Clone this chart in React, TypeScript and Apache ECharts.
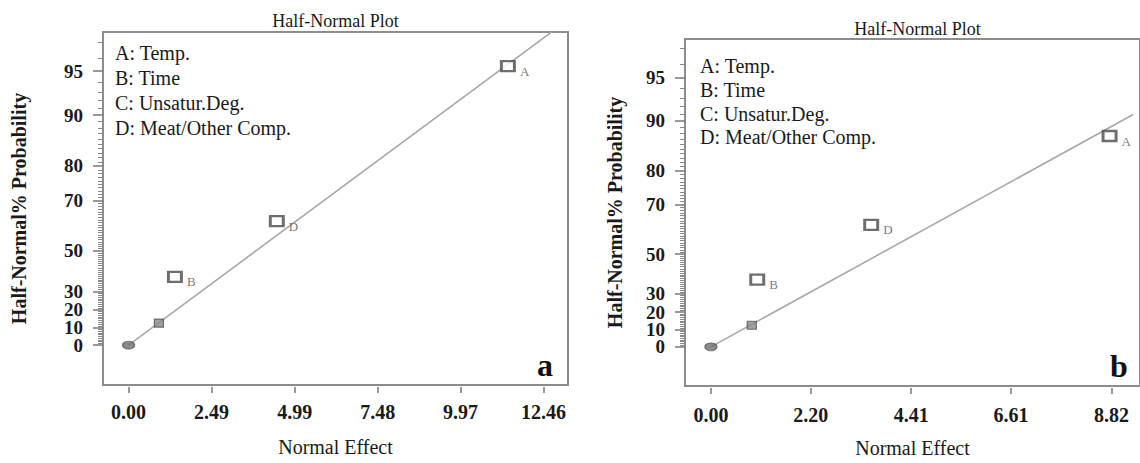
import React, { useEffect, useRef } from "react";
import * as echarts from "echarts";

// ---- data ----
const namesA = ["", "", "B", "D", "A"];
const effectA = [0, 0.91, 1.39, 4.45, 11.39];
const probA = [0, 12.5, 37.5, 62.5, 95.4];
const fitEffectA = [0, 12.71];
const fitProbA = [0, 97.5];

const namesB = ["", "", "B", "D", "A"];
const effectB = [0, 0.9, 1.02, 3.53, 8.78];
const probB = [0, 12.5, 37.5, 62.5, 87.5];
const fitEffectB = [0, 9.3];
const fitProbB = [0, 90.9];

const xTicksA = [0, 2.49, 4.99, 7.48, 9.97, 12.46];
const xTicksB = [0, 2.2, 4.41, 6.61, 8.82];
const yTicksPct = [0, 10, 20, 30, 50, 70, 80, 90, 95];
const yMinorPct = Array.from({ length: 97 }, (_, i) => i + 1);

const legendLines = ["A: Temp.", "B: Time", "C: Unsatur.Deg.", "D: Meat/Other Comp."];

// inverse standard normal CDF (Acklam)
function invNorm(p: number): number {
  const a = [-3.969683028665376e1, 2.209460984245205e2, -2.759285104469687e2, 1.38357751867269e2, -3.066479806614716e1, 2.506628277459239];
  const b = [-5.447609879822406e1, 1.615858368580409e2, -1.556989798598866e2, 6.680131188771972e1, -1.328068155288572e1];
  const c = [-7.784894002430293e-3, -3.223964580411365e-1, -2.400758277161838, -2.549732539343734, 4.374664141464968, 2.938163982698783];
  const d = [7.784695709041462e-3, 3.224671290700398e-1, 2.445134137142996, 3.754408661907416];
  const plow = 0.02425;
  const phigh = 1 - plow;
  if (p < plow) {
    const q = Math.sqrt(-2 * Math.log(p));
    return (((((c[0] * q + c[1]) * q + c[2]) * q + c[3]) * q + c[4]) * q + c[5]) / ((((d[0] * q + d[1]) * q + d[2]) * q + d[3]) * q + 1);
  } else if (p <= phigh) {
    const q = p - 0.5;
    const r = q * q;
    return ((((((a[0] * r + a[1]) * r + a[2]) * r + a[3]) * r + a[4]) * r + a[5]) * q) / (((((b[0] * r + b[1]) * r + b[2]) * r + b[3]) * r + b[4]) * r + 1);
  }
  const q = Math.sqrt(-2 * Math.log(1 - p));
  return -(((((c[0] * q + c[1]) * q + c[2]) * q + c[3]) * q + c[4]) * q + c[5]) / ((((d[0] * q + d[1]) * q + d[2]) * q + d[3]) * q + 1);
}
// half-normal probability scale
const hz = (pct: number) => invNorm((1 + pct / 100) / 2);

const FONT = "Liberation Serif, Times New Roman, serif";
const Z_MIN = -0.285;
const Z_MAX = 2.24;

function pointData(names: string[], eff: number[], prob: number[]) {
  return eff.map((x, i) => {
    const base: any = { name: names[i], value: [x, hz(prob[i])] };
    if (i === 0) {
      base.symbol = "circle";
      base.symbolSize = [12, 8];
      base.itemStyle = { color: "#6e6e6e", borderColor: "#555", borderWidth: 1 };
    } else if (i === 1) {
      base.symbol = "rect";
      base.symbolSize = [9, 8];
      base.itemStyle = { color: "#8a8a8a", borderColor: "#555", borderWidth: 1.2 };
    } else {
      base.symbol = "rect";
      base.symbolSize = [13, 10];
      base.itemStyle = { color: "#ffffff", borderColor: "#4a4a4a", borderWidth: 2.6 };
    }
    return base;
  });
}

const yLabelFmt = (v: number) => {
  const t = yTicksPct.find((p) => Math.abs(hz(p) - v) < 1e-6);
  return t === undefined ? "" : String(t);
};

// labels are split over two overlaid axes so that closely spaced ones are not auto-hidden
const labelSet1 = yTicksPct.filter((_, i) => i % 2 === 0);
const labelSet2 = yTicksPct.filter((_, i) => i % 2 === 1);

function yLabelStyle(margin: number, values: number[]) {
  return {
    margin,
    fontFamily: FONT,
    fontSize: 19,
    lineHeight: 15,
    fontWeight: "bold",
    color: "#1a1a1a",
    hideOverlap: false,
    showMinLabel: true,
    showMaxLabel: true,
    customValues: values.map(hz),
    formatter: yLabelFmt,
  };
}

function yAxes(gridIndex: number, labelMargin: number, nameGap: number) {
  return [
    {
      type: "value",
      gridIndex,
      position: "left",
      min: Z_MIN,
      max: Z_MAX,
      name: "Half-Normal% Probability",
      nameLocation: "middle",
      nameRotate: 90,
      nameGap,
      nameTextStyle: { fontFamily: FONT, fontSize: 20, fontWeight: "bold", color: "#1a1a1a" },
      axisLine: { show: false, onZero: false },
      splitLine: { show: false },
      axisTick: {
        show: true,
        length: 10,
        lineStyle: { color: "#777", width: 1.5 },
        customValues: yTicksPct.map(hz),
      },
      axisLabel: yLabelStyle(labelMargin, labelSet1),
    },
    {
      type: "value",
      gridIndex,
      position: "left",
      offset: 0,
      min: Z_MIN,
      max: Z_MAX,
      axisLine: { show: false, onZero: false },
      splitLine: { show: false },
      axisLabel: yLabelStyle(labelMargin, labelSet2),
      axisTick: {
        show: true,
        length: 5,
        lineStyle: { color: "#888", width: 1 },
        customValues: yMinorPct.filter((p) => !yTicksPct.includes(p)).map(hz),
      },
    },
  ];
}

function xAxis(gridIndex: number, min: number, max: number, ticks: number[], labelMargin: number) {
  return {
    type: "value",
    gridIndex,
    position: "bottom",
    min,
    max,
    offset: 2,
    name: "Normal Effect",
    nameLocation: "middle",
    nameGap: 50,
    nameTextStyle: { fontFamily: FONT, fontSize: 20, color: "#1a1a1a" },
    axisLine: { show: false, onZero: false },
    splitLine: { show: false },
    axisTick: { show: true, length: 6, lineStyle: { color: "#777", width: 1.5 }, customValues: ticks },
    axisLabel: {
      margin: labelMargin,
      fontFamily: FONT,
      fontSize: 20,
      fontWeight: "bold",
      color: "#1a1a1a",
      showMinLabel: true,
      showMaxLabel: true,
      customValues: ticks,
      formatter: (v: number) => v.toFixed(2),
    },
  };
}

function scatterSeries(idx: number, names: string[], eff: number[], prob: number[]) {
  return {
    type: "scatter",
    xAxisIndex: idx,
    yAxisIndex: idx * 2,
    z: 5,
    data: pointData(names, eff, prob),
    label: {
      show: true,
      position: "right",
      distance: 4,
      offset: [0, 5],
      formatter: (p: any) => p.name,
      fontFamily: FONT,
      fontSize: 13,
      color: "#555",
    },
  };
}

function lineSeries(idx: number, eff: number[], prob: number[]) {
  return {
    type: "line",
    xAxisIndex: idx,
    yAxisIndex: idx * 2,
    z: 3,
    symbol: "none",
    clip: true,
    lineStyle: { color: "#a8a8a8", width: 1.6 },
    data: eff.map((x, i) => [x, hz(prob[i])]),
  };
}

export default function App() {
  const ref = useRef<HTMLDivElement>(null);
  useEffect(() => {
    if (!ref.current) return;
    const chart = echarts.init(ref.current, undefined, { renderer: "svg" });
    const option: any = {
      animation: false,
      backgroundColor: "#ffffff",
      grid: [
        { left: 103, top: 32, width: 465, height: 353, show: true, borderColor: "#8c8c8c", borderWidth: 2, backgroundColor: "transparent" },
        { left: 685, top: 39, width: 465, height: 349, show: true, borderColor: "#8c8c8c", borderWidth: 2, backgroundColor: "transparent" },
      ],
      xAxis: [xAxis(0, -0.769, 13.195, xTicksA, 15), xAxis(1, -0.571, 9.45, xTicksB, 17)],
      yAxis: [...yAxes(0, 20, 74), ...yAxes(1, 20, 60)],
      series: [
        lineSeries(0, fitEffectA, fitProbA),
        scatterSeries(0, namesA, effectA, probA),
        lineSeries(1, fitEffectB, fitProbB),
        scatterSeries(1, namesB, effectB, probB),
      ],
      graphic: [
        { type: "text", x: 335.5, y: 21, style: { text: "Half-Normal Plot", font: `18px ${FONT}`, fill: "#1a1a1a", textAlign: "center", textVerticalAlign: "middle" } },
        { type: "text", x: 917.5, y: 29, style: { text: "Half-Normal Plot", font: `18px ${FONT}`, fill: "#1a1a1a", textAlign: "center", textVerticalAlign: "middle" } },
        { type: "text", x: 115, y: 41, style: { text: legendLines.join("\n"), font: `20px ${FONT}`, lineHeight: 24.8, fill: "#1a1a1a", textAlign: "left", textVerticalAlign: "top" } },
        { type: "text", x: 700, y: 54.5, style: { text: legendLines.join("\n"), font: `20px ${FONT}`, lineHeight: 23.6, fill: "#1a1a1a", textAlign: "left", textVerticalAlign: "top" } },
        { type: "text", x: 545, y: 365, style: { text: "a", font: `bold 32px ${FONT}`, fill: "#111", textAlign: "center", textVerticalAlign: "middle" } },
        { type: "text", x: 1119, y: 366, style: { text: "b", font: `bold 32px ${FONT}`, fill: "#111", textAlign: "center", textVerticalAlign: "middle" } },
      ],
    };
    chart.setOption(option);
    return () => chart.dispose();
  }, []);
  return (
    <div
      ref={ref}
      style={{ position: "absolute", left: 0, top: 0, width: 1140, height: 463, background: "#fff" }}
    />
  );
}
